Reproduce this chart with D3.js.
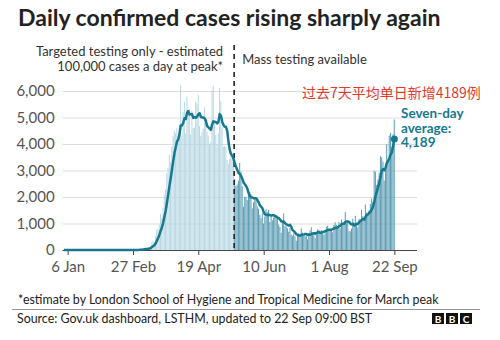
<!DOCTYPE html>
<html>
<head>
<meta charset="utf-8">
<script src="https://d3js.org/d3.v7.min.js"></script>
<style>
  body { margin: 0; background: #fff; }
  svg { display: block; font-family: Lato, "Noto Sans", sans-serif; }
</style>
</head>
<body>
<div id="chart"></div>
<script>
// daily confirmed cases, one value per day from 3 Jan 2020
const jan = [0,0,0,0,0,0,0,0,0,0, 0,0,0,0,0,0,0,0,0,0, 0,0,0,0,0,0,0,0,2];
const feb = [0,0,0,0,1,0,0,1,4,0, 0,0,0,0,0,0,0,0,0,0, 0,0,0,0,4,0,2,5,3];
const mar = [12,4,11,34,30,48,43,67,48,61, 74,135,290,340,300,520,760,800,950,1350,
             1200,1600,2100,2300,2900,3100,3600,3300,3900,4300, 4500];
const apr = [4400,4600,4200,4700,6200,4300,5200,5600,4400,5800, 5200,5300,4350,5250,4600,4620,5600,5530,5850,4680,
             4300,4450,4580,5390,4910,4460,4310,4000,4080,6030];
const may = [6200,4810,4340,3990,4410,6110,5610,4650,3900,3920, 3880,3400,3240,3450,3560,3450,3140,2680,2410,2470,
             2620,3290,2960,2410,1630,2000,2010,1890,2100,2200, 2100];
const jun = [1570,1800,2000,1900,1650,1560,1330,1200,1390,1000, 1270,1540,1430,1510,1060,1280,1120,1220,1350,1300,
             1220,960,870,650,1120,1380,890,900,820,690];
const jul = [830,580,540,620,520,350,580,630,510,820, 650,530,530,540,400,640,740,860,650,580,
             450,620,770,770,690,750,690,580,760,880, 920];
const aug = [800,740,740,670,950,1050,950,870,1060,820, 1150,1010,1060,1440,1010,1040,710,710,810,1180,
             1030,1290,1040,850,1180,1050,1520,1280,1110,1720, 1410];
const sep = [1300,1510,1740,1940,1810,2990,2950,2460,2660,2920, 3540,3500,3330,2620,3110,3991,3395,4322,4422,3899,
             4368,4926];

const yTicks = [0, 1000, 2000, 3000, 4000, 5000, 6000];
const xTickDates = ["2020-01-06", "2020-02-27", "2020-04-19", "2020-06-10", "2020-08-01", "2020-09-22"];
const xTickLabels = ["6 Jan", "27 Feb", "19 Apr", "10 Jun", "1 Aug", "22 Sep"];
const massTesting = "2020-05-18";

const width = 500, height = 340;
const teal = "#17798f";

const parse = d3.utcParse("%Y-%m-%d");
const firstDay = parse("2020-01-03");

const daily = [].concat(jan, feb, mar, apr, may, jun, jul, aug, sep)
    .map((v, i) => ({ date: d3.utcDay.offset(firstDay, i), value: v }));

// seven-day trailing average
daily.forEach((d, i) => {
    d.avg = d3.mean(daily.slice(Math.max(0, i - 6), i + 1), s => s.value);
});

const svg = d3.select("#chart").append("svg")
    .attr("width", width)
    .attr("height", height);

const x = d3.scaleUtc()
    .domain([parse("2020-01-02"), parse("2020-10-10")])
    .range([62.6, 417]);

const y = d3.scaleLinear()
    .domain([0, 6000])
    .range([250, 91]);

const dayW = x(parse("2020-01-04")) - x(parse("2020-01-03"));
const split = parse(massTesting);

//title
svg.append("text")
    .attr("x", 18).attr("y", 26)
    .attr("font-size", 23).attr("font-weight", 700)
    .attr("fill", "#222")
    .text("Daily confirmed cases rising sharply again");

//grid lines + y labels
svg.append("g")
    .attr("transform", `translate(${x.range()[0]},0)`)
    .call(d3.axisLeft(y).tickValues(yTicks).tickFormat(d3.format(",")).tickSize(0).tickPadding(8))
    .call(g => g.select(".domain").remove())
    .call(g => g.selectAll(".tick text").attr("font-size", 15).attr("fill", "#555").attr("font-family", "Lato, sans-serif"))
    .call(g => g.selectAll(".tick line").clone()
        .attr("x2", x.range()[1] - x.range()[0])
        .attr("stroke", d => d === 0 ? "#444" : "#dcdcdc")
        .attr("stroke-width", 1));

//bars
svg.append("g")
    .selectAll("rect")
    .data(daily)
    .join("rect")
        .attr("x", d => x(d.date) - dayW / 2)
        .attr("width", dayW * 0.8)
        .attr("y", d => y(d.value))
        .attr("height", d => y(0) - y(d.value))
        .attr("fill", d => d.date < split ? "#b9d8e3" : "#5e9db5");

//x axis
svg.append("g")
    .attr("transform", `translate(0,${y(0)})`)
    .call(d3.axisBottom(x)
        .tickValues(xTickDates.map(parse))
        .tickFormat((d, i) => xTickLabels[i])
        .tickSize(5).tickPadding(6))
    .call(g => g.select(".domain").remove())
    .call(g => g.selectAll(".tick line").attr("stroke", "#444"))
    .call(g => g.selectAll(".tick text").attr("font-size", 15).attr("fill", "#555").attr("font-family", "Lato, sans-serif"));

//mass testing divider
const splitX = x(split) - dayW / 2;
svg.append("line")
    .attr("x1", splitX).attr("x2", splitX)
    .attr("y1", 45).attr("y2", y(0))
    .attr("stroke", "#222")
    .attr("stroke-width", 1.6)
    .attr("stroke-dasharray", "5 4");

svg.append("text")
    .attr("x", splitX - 11).attr("y", 56)
    .attr("text-anchor", "end")
    .attr("font-size", 13).attr("fill", "#333")
    .call(t => t.append("tspan").text("Targeted testing only - estimated"))
    .call(t => t.append("tspan").attr("x", splitX - 11).attr("dy", 15).text("100,000 cases a day at peak*"));

svg.append("text")
    .attr("x", splitX + 8).attr("y", 64)
    .attr("font-size", 13).attr("fill", "#333")
    .text("Mass testing available");

//seven-day average line
svg.append("path")
    .datum(daily)
    .attr("fill", "none")
    .attr("stroke", teal)
    .attr("stroke-width", 2.5)
    .attr("stroke-linejoin", "round")
    .attr("d", d3.line().x(d => x(d.date)).y(d => y(d.avg)));

const last = daily[daily.length - 1];
svg.append("circle")
    .attr("cx", x(last.date)).attr("cy", y(last.avg))
    .attr("r", 3.5)
    .attr("fill", teal);

const lastAvg = Math.round(last.avg);
const avgLines = ["Seven-day", "average:", d3.format(",")(lastAvg)];
svg.append("g")
    .selectAll("text")
    .data(avgLines)
    .join("text")
        .attr("x", 401)
        .attr("y", (d, i) => 118 + i * 14.5)
        .attr("font-size", 13.5).attr("font-weight", 700).attr("fill", teal)
        .text(d => d);

svg.append("text")
    .attr("x", 302).attr("y", 98)
    .attr("font-size", 14)
    .attr("font-family", "'Noto Sans CJK SC', sans-serif")
    .attr("fill", "#e23a2e")
    .text(`过去7天平均单日新增${lastAvg}例`);

//footer
svg.append("text")
    .attr("x", 18).attr("y", 304)
    .attr("font-size", 12.4).attr("fill", "#222")
    .text("*estimate by London School of Hygiene and Tropical Medicine for March peak");

svg.append("line")
    .attr("x1", 12).attr("x2", 480)
    .attr("y1", 309.5).attr("y2", 309.5)
    .attr("stroke", "#999");

svg.append("text")
    .attr("x", 17).attr("y", 323)
    .attr("font-size", 12.4).attr("fill", "#222")
    .text("Source: Gov.uk dashboard, LSTHM, updated to 22 Sep 09:00 BST");

const logo = svg.append("g").attr("transform", "translate(432,313)");
["B", "B", "C"].forEach((c, i) => {
    logo.append("rect").attr("x", i * 14).attr("width", 12).attr("height", 11).attr("fill", "#111");
    logo.append("text").attr("x", i * 14 + 6).attr("y", 9.5)
        .attr("text-anchor", "middle").attr("font-size", 10).attr("font-weight", 700)
        .attr("fill", "#fff").text(c);
});
</script>
</body>
</html>
